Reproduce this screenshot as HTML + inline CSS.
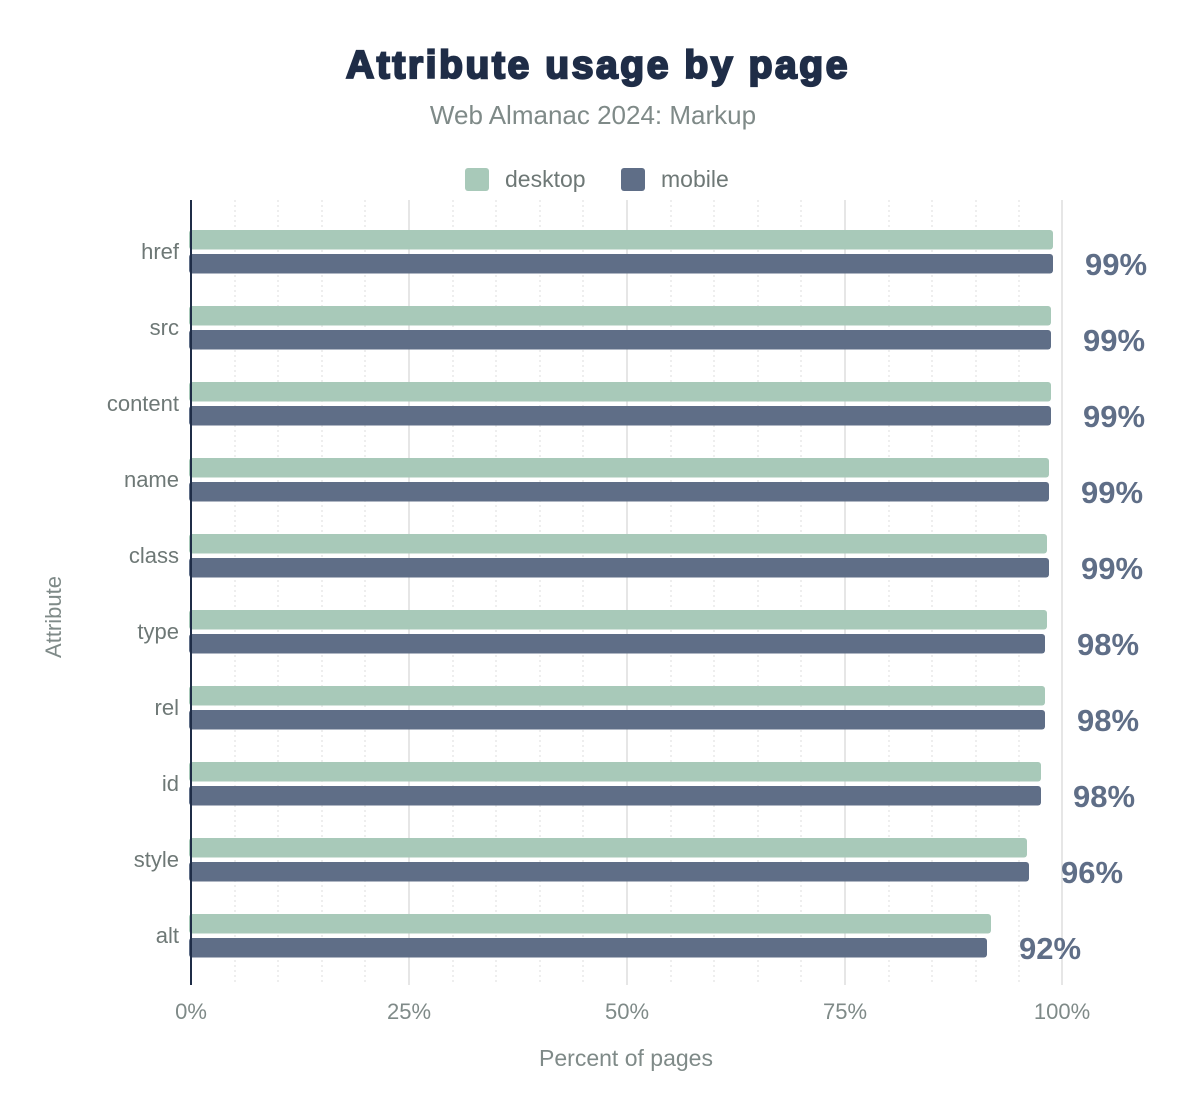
<!DOCTYPE html>
<html><head><meta charset="utf-8"><style>
body{margin:0;background:#fff;}
svg{display:block;font-family:"Liberation Sans",Arial,sans-serif;}
</style></head><body>
<svg width="1200" height="1116" viewBox="0 0 1200 1116" xmlns="http://www.w3.org/2000/svg">
<rect width="1200" height="1116" fill="#fff"/>
<text x="598" y="78" text-anchor="middle" font-size="39" font-weight="bold" fill="#1f2d47" stroke="#1f2d47" stroke-width="2.2" letter-spacing="2.6">Attribute usage by page</text>
<text x="593" y="124" text-anchor="middle" font-size="26" fill="#7f8a88">Web Almanac 2024: Markup</text>
<rect x="465" y="168" width="24" height="23" rx="3" fill="#a8c9b9"/>
<text x="505" y="187" font-size="23" fill="#6e7876">desktop</text>
<rect x="621" y="168" width="24" height="23" rx="3" fill="#5f6e87"/>
<text x="661" y="187" font-size="23" fill="#6e7876">mobile</text>
<g id="grid">
<g stroke="#ddd" stroke-width="1" stroke-dasharray="2,3">
<line x1="235" y1="200" x2="235" y2="985"/><line x1="278" y1="200" x2="278" y2="985"/><line x1="322" y1="200" x2="322" y2="985"/><line x1="365" y1="200" x2="365" y2="985"/>
<line x1="453" y1="200" x2="453" y2="985"/><line x1="496" y1="200" x2="496" y2="985"/><line x1="540" y1="200" x2="540" y2="985"/><line x1="583" y1="200" x2="583" y2="985"/>
<line x1="671" y1="200" x2="671" y2="985"/><line x1="714" y1="200" x2="714" y2="985"/><line x1="758" y1="200" x2="758" y2="985"/><line x1="801" y1="200" x2="801" y2="985"/>
<line x1="889" y1="200" x2="889" y2="985"/><line x1="932" y1="200" x2="932" y2="985"/><line x1="976" y1="200" x2="976" y2="985"/><line x1="1019" y1="200" x2="1019" y2="985"/>
</g>
<g stroke="#e6e6e6" stroke-width="2">
<line x1="409" y1="200" x2="409" y2="985"/><line x1="627" y1="200" x2="627" y2="985"/><line x1="845" y1="200" x2="845" y2="985"/><line x1="1062" y1="200" x2="1062" y2="985"/>
</g>
</g>
<g font-size="22" fill="#6e7876" text-anchor="end">
<text x="179" y="259">href</text><text x="179" y="335">src</text><text x="179" y="411">content</text><text x="179" y="487">name</text><text x="179" y="563">class</text><text x="179" y="639">type</text><text x="179" y="715">rel</text><text x="179" y="791">id</text><text x="179" y="867">style</text><text x="179" y="943">alt</text>
</g>
<g>
<rect x="189" y="230" width="864" height="19.5" rx="3" fill="#a8c9b9"/><rect x="189" y="254" width="864" height="19.5" rx="3" fill="#5f6e87"/>
<rect x="189" y="306" width="862" height="19.5" rx="3" fill="#a8c9b9"/><rect x="189" y="330" width="862" height="19.5" rx="3" fill="#5f6e87"/>
<rect x="189" y="382" width="862" height="19.5" rx="3" fill="#a8c9b9"/><rect x="189" y="406" width="862" height="19.5" rx="3" fill="#5f6e87"/>
<rect x="189" y="458" width="860" height="19.5" rx="3" fill="#a8c9b9"/><rect x="189" y="482" width="860" height="19.5" rx="3" fill="#5f6e87"/>
<rect x="189" y="534" width="858" height="19.5" rx="3" fill="#a8c9b9"/><rect x="189" y="558" width="860" height="19.5" rx="3" fill="#5f6e87"/>
<rect x="189" y="610" width="858" height="19.5" rx="3" fill="#a8c9b9"/><rect x="189" y="634" width="856" height="19.5" rx="3" fill="#5f6e87"/>
<rect x="189" y="686" width="856" height="19.5" rx="3" fill="#a8c9b9"/><rect x="189" y="710" width="856" height="19.5" rx="3" fill="#5f6e87"/>
<rect x="189" y="762" width="852" height="19.5" rx="3" fill="#a8c9b9"/><rect x="189" y="786" width="852" height="19.5" rx="3" fill="#5f6e87"/>
<rect x="189" y="838" width="838" height="19.5" rx="3" fill="#a8c9b9"/><rect x="189" y="862" width="840" height="19.5" rx="3" fill="#5f6e87"/>
<rect x="189" y="914" width="802" height="19.5" rx="3" fill="#a8c9b9"/><rect x="189" y="938" width="798" height="19.5" rx="3" fill="#5f6e87"/>
</g>
<line x1="191" y1="200" x2="191" y2="985" stroke="#1f2d47" stroke-width="2"/>
<g font-size="31" font-weight="bold" fill="#5f6e87">
<text x="1085" y="275">99%</text><text x="1083" y="351">99%</text><text x="1083" y="427">99%</text><text x="1081" y="503">99%</text><text x="1081" y="579">99%</text><text x="1077" y="655">98%</text><text x="1077" y="731">98%</text><text x="1073" y="807">98%</text><text x="1061" y="883">96%</text><text x="1019" y="959">92%</text>
</g>
<g font-size="22" fill="#7f8a88" text-anchor="middle">
<text x="191" y="1019">0%</text><text x="409" y="1019">25%</text><text x="627" y="1019">50%</text><text x="845" y="1019">75%</text><text x="1062" y="1019">100%</text>
</g>
<text x="626" y="1066" text-anchor="middle" font-size="23" fill="#7f8a88">Percent of pages</text>
<text transform="translate(61,617) rotate(-90)" text-anchor="middle" font-size="22" fill="#7f8a88">Attribute</text>
</svg>
</body></html>
